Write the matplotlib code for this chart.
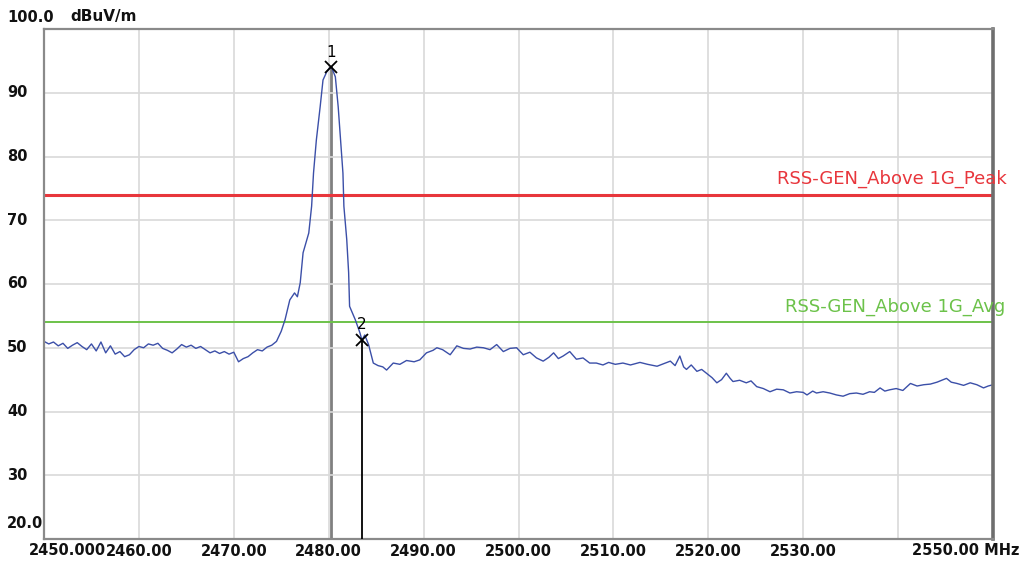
import matplotlib.pyplot as plt
from matplotlib.transforms import blended_transform_factory

# Spectrum trace (MHz, dBuV/m)
freq = [2450.0, 2450.5, 2451.0, 2451.5, 2452.0, 2452.5, 2453.0, 2453.5, 2454.0, 2454.5,
        2455.0, 2455.5, 2456.0, 2456.5, 2457.0, 2457.5, 2458.0, 2458.5, 2459.0, 2459.5,
        2460.0, 2460.5, 2461.0, 2461.5, 2462.0, 2462.5, 2463.0, 2463.5, 2464.0, 2464.5,
        2465.0, 2465.5, 2466.0, 2466.5, 2467.0, 2467.5, 2468.0, 2468.5, 2469.0, 2469.5,
        2470.0, 2470.5, 2471.0, 2471.5, 2472.0, 2472.5, 2473.0, 2473.5, 2474.0, 2474.5,
        2475.0, 2475.4, 2475.9, 2476.4, 2476.7, 2477.0, 2477.3, 2477.9, 2478.2, 2478.4,
        2478.7, 2479.1, 2479.4, 2479.8, 2480.1, 2480.3, 2480.7, 2481.0, 2481.2, 2481.5,
        2481.6, 2481.9, 2482.1, 2482.2, 2482.8, 2483.3, 2483.5, 2483.8, 2484.2, 2484.7,
        2485.2, 2485.7, 2486.1, 2486.8, 2487.5, 2488.2, 2489.0, 2489.6, 2490.3, 2491.0,
        2491.4, 2492.0, 2492.8, 2493.5, 2494.2, 2494.9, 2495.6, 2496.3, 2497.0, 2497.7,
        2498.4, 2499.1, 2499.8, 2500.5, 2501.2, 2501.9, 2502.6, 2503.2, 2503.7, 2504.2,
        2504.7, 2505.4, 2506.1, 2506.8, 2507.5, 2508.2, 2508.9, 2509.5, 2510.2, 2511.0,
        2511.8, 2512.8, 2513.6, 2514.6, 2515.3, 2516.0, 2516.5, 2517.0, 2517.4, 2517.7,
        2518.2, 2518.8, 2519.3, 2519.8, 2520.4, 2520.9, 2521.4, 2521.9, 2522.3, 2522.6,
        2523.3, 2524.0, 2524.5, 2525.1, 2525.8, 2526.5, 2527.2, 2527.9, 2528.6, 2529.3,
        2530.0, 2530.4, 2531.0, 2531.4, 2532.1, 2532.8, 2533.5, 2534.2, 2534.9, 2535.6,
        2536.3, 2537.0, 2537.5, 2538.1, 2538.6, 2539.1, 2539.8, 2540.5, 2541.3, 2542.0,
        2542.7, 2543.4, 2544.1, 2544.6, 2545.1, 2545.6, 2546.2, 2546.9, 2547.6, 2548.3,
        2549.0, 2549.5, 2550.0]
level = [51.0, 50.6, 50.9, 50.3, 50.7, 49.9, 50.4, 50.8, 50.2, 49.7,
         50.6, 49.5, 50.9, 49.2, 50.3, 49.0, 49.4, 48.6, 48.9, 49.7,
         50.2, 50.0, 50.6, 50.4, 50.7, 49.9, 49.6, 49.2, 49.8, 50.5,
         50.1, 50.4, 49.9, 50.2, 49.7, 49.2, 49.5, 49.1, 49.4, 49.0,
         49.3, 47.8, 48.3, 48.6, 49.2, 49.7, 49.5, 50.1, 50.4, 51.0,
         52.6, 54.4, 57.5, 58.6, 58.0, 60.2, 64.9, 68.0, 72.2, 77.4,
         82.6, 87.8, 92.0, 93.3, 93.9, 94.0, 92.5, 87.8, 83.7, 77.4,
         72.2, 67.0, 61.8, 56.5, 54.4, 52.3, 51.2, 52.0, 50.5, 47.6,
         47.2, 47.0, 46.5, 47.6, 47.4, 48.0, 47.8, 48.1, 49.2, 49.6,
         50.0, 49.7, 48.9, 50.3, 49.9, 49.8, 50.1, 50.0, 49.7, 50.5,
         49.4, 49.9, 50.0, 48.9, 49.3, 48.4, 47.9, 48.5, 49.2, 48.3,
         48.7, 49.4, 48.2, 48.4, 47.6, 47.6, 47.3, 47.7, 47.4, 47.6,
         47.3, 47.7, 47.4, 47.1, 47.5, 47.9, 47.2, 48.7, 47.0, 46.6,
         47.3, 46.3, 46.6, 46.0, 45.3, 44.5, 45.0, 46.0, 45.2, 44.7,
         44.9, 44.5, 44.8, 43.9, 43.6, 43.1, 43.5, 43.4, 42.9, 43.1,
         43.0, 42.6, 43.2, 42.9, 43.1, 42.9, 42.6, 42.4, 42.8, 42.9,
         42.7, 43.1, 43.0, 43.7, 43.2, 43.4, 43.6, 43.3, 44.4, 44.0,
         44.2, 44.3, 44.6, 44.9, 45.2, 44.6, 44.4, 44.1, 44.5, 44.2,
         43.7, 44.0, 44.2]

peak_limit = 74.0
avg_limit = 54.0
marker_freq = [2480.24, 2483.48]
marker_level = [94.0, 51.2]
marker_names = ['1', '2']

xticks = [2460, 2470, 2480, 2490, 2500, 2510, 2520, 2530]
xtick_labels = ['2460.00', '2470.00', '2480.00', '2490.00', '2500.00',
                '2510.00', '2520.00', '2530.00']
yticks = [30, 40, 50, 60, 70, 80, 90]

fig = plt.figure(figsize=(10.34, 5.62), dpi=100)
ax = fig.add_axes([44 / 1034, 23 / 562, 949 / 1034, 510 / 562])
ax.set_xlim(2450, 2550)
ax.set_ylim(20, 100)

# grid
ax.set_xticks(list(range(2450, 2551, 10)))
ax.set_yticks(yticks)
ax.grid(True, color='#d9d9d9', linewidth=1.2)
ax.tick_params(length=0, labelbottom=False, labelleft=False)

for s in ['left', 'bottom', 'top']:
    ax.spines[s].set_color('#8a8a8a')
    ax.spines[s].set_linewidth(1.6)
ax.spines['right'].set_color('#6e6e6e')
ax.spines['right'].set_linewidth(2.6)

# limit lines
ax.axhline(peak_limit, color='#e8363c', linewidth=2.2)
ax.axhline(avg_limit, color='#6cc24a', linewidth=1.4)
ax.text(2551.5, peak_limit + 1.0, 'RSS-GEN_Above 1G_Peak', color='#e8363c',
        fontsize=13, ha='right', va='bottom')
ax.text(2551.3, avg_limit + 1.0, 'RSS-GEN_Above 1G_Avg', color='#6cc24a',
        fontsize=13, ha='right', va='bottom')

# trace
ax.plot(freq, level, color='#3b4fa8', linewidth=1.0)

# markers
ax.plot([marker_freq[0]] * 2, [20, marker_level[0]], color='#808080', linewidth=2, zorder=1.5)
ax.plot([marker_freq[1]] * 2, [20, marker_level[1]], color='black', linewidth=1.3, zorder=3)
ax.plot(marker_freq, marker_level, 'x', color='black', markersize=8, mew=1.3, zorder=4)
for f, v, n in zip(marker_freq, marker_level, marker_names):
    ax.text(f, v + 1.2, n, fontsize=11, ha='center', va='bottom', color='black', zorder=4)

# tick labels drawn as text
tfont = dict(fontsize=10.5, fontweight='bold', color='#111111')
xtr = blended_transform_factory(ax.transData, ax.transAxes)
for t, lab in zip(xticks, xtick_labels):
    ax.text(t, -0.01, lab, transform=xtr, ha='center', va='top', **tfont)
ax.text(29 / 1034, 1 - 543 / 562, '2450.000', transform=fig.transFigure,
        ha='left', va='top', **tfont)
ax.text(1019 / 1034, 1 - 543 / 562, '2550.00 MHz', transform=fig.transFigure,
        ha='right', va='top', **tfont)

ytr = blended_transform_factory(fig.transFigure, ax.transData)
for t in yticks:
    ax.text(7 / 1034, t, str(t), transform=ytr, ha='left', va='center', **tfont)
ax.text(7 / 1034, 1 - 17 / 562, '100.0', transform=fig.transFigure, ha='left', va='center', **tfont)
ax.text(70 / 1034, 1 - 17 / 562, 'dBuV/m', transform=fig.transFigure, ha='left', va='center',
        fontsize=11, fontweight='bold', color='#111111')
ax.text(7 / 1034, 1 - 523 / 562, '20.0', transform=fig.transFigure, ha='left', va='center', **tfont)

fig.savefig('out.png', dpi=100)
